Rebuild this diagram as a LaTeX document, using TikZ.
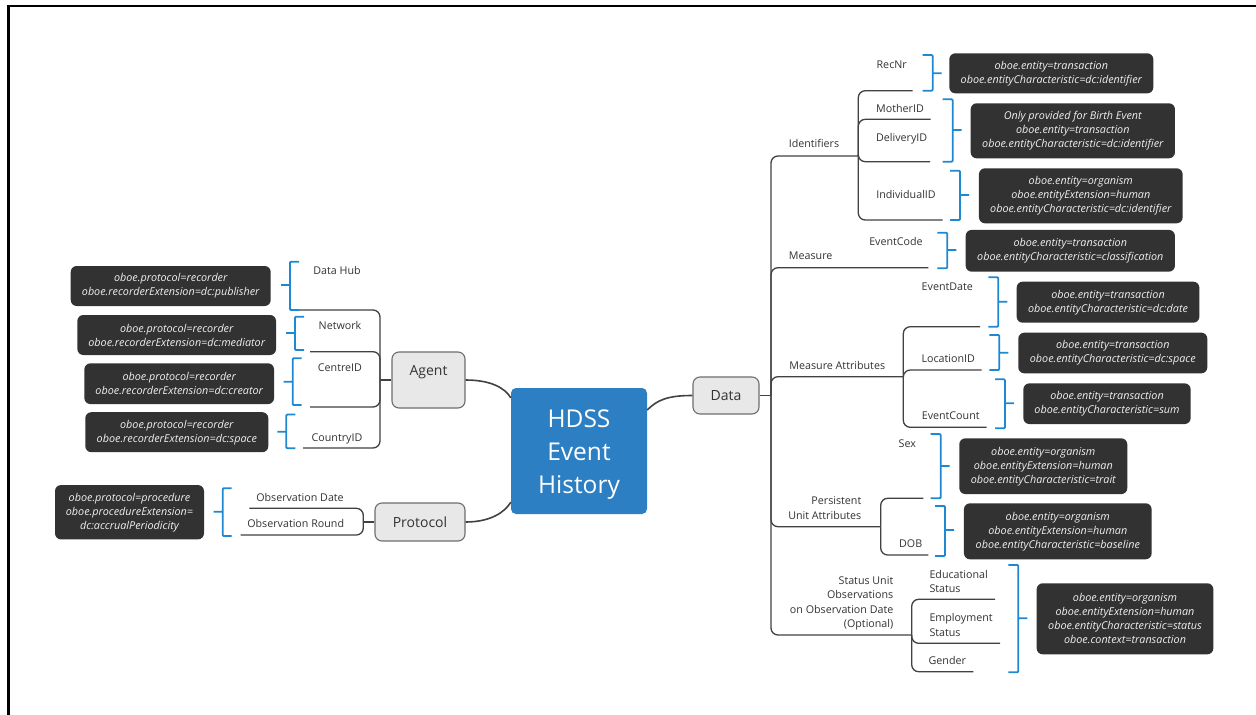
\documentclass[tikz,border=0pt]{standalone}
\usepackage{fontspec}
\setmainfont{Open Sans}
\usetikzlibrary{calc}

\definecolor{hubblue}{RGB}{45,127,195}
\definecolor{brakblue}{RGB}{30,136,210}
\definecolor{linegray}{RGB}{65,65,65}
\definecolor{boxdark}{RGB}{50,50,50}
\definecolor{nodegray}{RGB}{232,232,232}
\definecolor{nodeedge}{RGB}{110,110,110}
\definecolor{txt}{RGB}{51,51,51}

% bracket opening to the right: spine x, top y, bottom y, tick y
\newcommand\openbrak[4]{%
  \draw[brak] ({#1+9},#2) -- (#1,#2) -- (#1,#3) -- ({#1+9},#3) (#1,#4) -- ({#1-9},#4);}
% bracket opening to the left: spine x, top y, bottom y, tick y
\newcommand\closebrak[4]{%
  \draw[brak] ({#1-10},#2) -- (#1,#2) -- (#1,#3) -- ({#1-10},#3) (#1,#4) -- ({#1+9},#4);}

\begin{document}
\begin{tikzpicture}[x=1pt,y=-1pt,
  dbox/.style={fill=boxdark, rounded corners=6pt, text=white!94!black,
    font=\fontsize{10.8}{14}\selectfont\itshape, align=center, inner sep=0pt},
  gnode/.style={fill=nodegray, draw=nodeedge, line width=1.1pt, rounded corners=7pt,
    text=txt, font=\fontsize{14}{17}\selectfont, inner sep=0pt},
  lbl/.style={text=txt, font=\fontsize{10.7}{14.5}\selectfont, inner sep=0pt,
    text height=7.6pt, text depth=0pt},
  mlbl/.style={text=txt, font=\fontsize{10.7}{14.5}\selectfont, inner sep=0pt},
  limb/.style={draw=linegray, line width=1.3pt, rounded corners=7pt},
  conn/.style={draw=linegray, line width=1.6pt},
  brak/.style={draw=brakblue, line width=1.8pt, rounded corners=1pt}]

\useasboundingbox (0,0) rectangle (1256,715);
\fill[white] (0,0) rectangle (1256,715);
\draw[line width=2.6pt] (8.3,715) -- (8.3,6) -- (1256,6);

% ---- central topic and main topics
\node[fill=hubblue, rounded corners=5pt, minimum width=136pt, minimum height=126pt,
  text=white, font=\fontsize{24.5}{33}\selectfont, align=center, inner sep=0pt]
  (hdss) at (579,451) {\rule{0pt}{24.5pt}HDSS\\Event\\History};
\node[gnode, minimum width=73pt, minimum height=56pt, text height=10pt, text depth=19.4pt]
  (agent) at (428.5,380) {Agent};
\node[gnode, minimum width=90pt, minimum height=38pt] (protocol) at (420,522) {Protocol};
\node[gnode, minimum width=66pt, minimum height=37pt] (data) at (726,395.5) {Data};

\draw[conn] (agent.east) .. controls +(25,0) and +(-6,-10) .. ($(hdss.north west)+(0,10)$);
\draw[conn] (protocol.east) .. controls +(25,0) and +(-6,10) .. ($(hdss.south west)+(0,-12)$);
\draw[conn] ($(hdss.east)+(0,-41)$) .. controls +(10,-10) and +(-25,0) .. (data.west);

% ---- Agent
\node[lbl] (datahub) at (337,271) {Data Hub};
\node[lbl] (network) at (340,326) {Network};
\node[lbl] (centre) at (340,368) {CentreID};
\node[lbl] (country) at (337,438) {CountryID};
\coordinate (agT) at (380,380);
\coordinate (datahubU) at (297,310);
\coordinate (networkU) at (310,351.7);
\coordinate (centreU) at (310,407);
\coordinate (countryU) at (303,448);
\draw[limb] (agent.west) -- (agT);
\foreach \c in {datahubU,networkU,centreU,countryU}
  \draw[limb] (\c) -- (\c -| agT) -- (agT);

\node[dbox, minimum width=200pt, minimum height=40pt] (datahubBox) at (170.7,286)
  {oboe.protocol=recorder\\oboe.recorderExtension=dc:publisher};
\node[dbox, minimum width=198.7pt, minimum height=40pt] (networkBox) at (176.7,335)
  {oboe.protocol=recorder\\oboe.recorderExtension=dc:mediator};
\node[dbox, minimum width=189.7pt, minimum height=40.7pt] (centreBox) at (179.2,383.7)
  {oboe.protocol=recorder\\oboe.recorderExtension=dc:creator};
\node[dbox, minimum width=183pt, minimum height=40pt] (countryBox) at (176.8,432.2)
  {oboe.protocol=recorder\\oboe.recorderExtension=dc:space};
\openbrak{290}{261.7}{310}{285}
\openbrak{295}{316.7}{350}{333}
\openbrak{292.7}{358.3}{405}{381.7}
\openbrak{286.3}{414.5}{448.3}{431.7}

% ---- Protocol
\node[lbl] (obsdate) at (300,497.3) {Observation Date};
\node[lbl] (obsround) at (295.7,524) {Observation Round};
\coordinate (prT) at (363.3,522);
\coordinate (obsdateU) at (249.3,508.3);
\coordinate (obsroundU) at (240.7,535);
\draw[limb] (protocol.west) -- (prT);
\foreach \c in {obsdateU,obsroundU}
  \draw[limb] (\c) -- (\c -| prT) -- (prT);
\node[dbox, minimum width=149pt, minimum height=54.3pt] (protocolBox) at (129.5,512.2)
  {oboe.protocol=procedure\\oboe.procedureExtension=\\dc:accrualPeriodicity};
\openbrak{222.7}{488.3}{536}{511.7}

% ---- Data
\coordinate (daT) at (771,395.5);
\draw[limb] (data.east) -- (daT);
\node[lbl] (ident) at (814,144) {Identifiers};
\node[lbl] (measure) at (810.7,256) {Measure};
\node[lbl] (mattr) at (837.3,365.7) {Measure Attributes};
\node[mlbl, anchor=east, align=right] (persist) at (861.5,508) {Persistent\\Unit Attributes};
\node[mlbl, anchor=east, align=right] (status) at (893.5,603.5)
  {Status Unit\\Observations\\on Observation Date\\(Optional)};
\coordinate (identU) at (858.3,156);
\coordinate (measureU) at (928.3,267.7);
\coordinate (mattrU) at (903.3,376.7);
\coordinate (persistU) at (880.7,526.7);
\coordinate (statusU) at (911.7,635);
\foreach \c in {identU,measureU,mattrU,persistU,statusU}
  \draw[limb] (\c) -- (\c -| daT) -- (daT);

% Identifiers
\node[lbl] (recnr) at (891.7,65) {RecNr};
\node[lbl] (mother) at (900,108.3) {MotherID};
\node[lbl] (delivery) at (901.7,137.3) {DeliveryID};
\node[lbl] (indiv) at (906,195) {IndividualID};
\coordinate (recnrU) at (912.7,90.7);
\coordinate (motherU) at (930.7,119.3);
\coordinate (deliveryU) at (930,161.7);
\coordinate (indivU) at (942.7,220);
\foreach \c in {recnrU,motherU,deliveryU,indivU}
  \draw[limb] (\c) -- (\c -| identU) -- (identU);
\node[dbox, minimum width=204pt, minimum height=40pt] (recnrBox) at (1051.3,73.3)
  {oboe.entity=transaction\\oboe.entityCharacteristic=dc:identifier};
\node[dbox, minimum width=204.3pt, minimum height=55pt] (deliveryBox) at (1072.8,130.8)
  {Only provided for Birth Event\\oboe.entity=transaction\\oboe.entityCharacteristic=dc:identifier};
\node[dbox, minimum width=203.7pt, minimum height=55pt] (indivBox) at (1080.8,195.8)
  {oboe.entity=organism\\oboe.entityExtension=human\\oboe.entityCharacteristic=dc:identifier};
\closebrak{932.7}{55}{90.7}{73.3}
\closebrak{952.7}{99.3}{161.7}{130}
\closebrak{960}{170.7}{220}{195}

% Measure
\node[lbl] (evcode) at (896,241.7) {EventCode};
\node[dbox, minimum width=209.3pt, minimum height=41.7pt] (evcodeBox) at (1070.3,250.8)
  {oboe.entity=transaction\\oboe.entityCharacteristic=classification};
\closebrak{947.3}{232.7}{268.3}{250}

% Measure Attributes
\node[lbl] (evdate) at (947.3,286.7) {EventDate};
\node[lbl] (locid) at (948.3,358.3) {LocationID};
\node[lbl] (evcount) at (950.7,416) {EventCount};
\coordinate (evdateU) at (980,326.7);
\coordinate (locidU) at (981.7,370);
\coordinate (evcountU) at (986.7,427.3);
\foreach \c in {evdateU,locidU,evcountU}
  \draw[limb] (\c) -- (\c -| mattrU) -- (mattrU);
\node[dbox, minimum width=182.7pt, minimum height=41pt] (evdateBox) at (1108,302.2)
  {oboe.entity=transaction\\oboe.entityCharacteristic=dc:date};
\node[dbox, minimum width=189pt, minimum height=40.7pt] (locidBox) at (1112.8,353)
  {oboe.entity=transaction\\oboe.entityCharacteristic=dc:space};
\node[dbox, minimum width=167.3pt, minimum height=40.7pt] (evcountBox) at (1107,403.7)
  {oboe.entity=transaction\\oboe.entityCharacteristic=sum};
\closebrak{998.3}{277.3}{326.7}{301.7}
\closebrak{999.3}{335}{370}{352.7}
\closebrak{1005}{379.3}{428.3}{403.3}

% Persistent Unit Attributes
\node[lbl] (sex) at (907.3,444) {Sex};
\node[lbl] (dob) at (910.7,544) {DOB};
\coordinate (sexU) at (923.3,498.3);
\coordinate (dobU) at (928.3,555);
\foreach \c in {sexU,dobU}
  \draw[limb] (\c) -- (\c -| persistU) -- (persistU);
\node[dbox, minimum width=168pt, minimum height=55.7pt] (sexBox) at (1043.3,466.2)
  {oboe.entity=organism\\oboe.entityExtension=human\\oboe.entityCharacteristic=trait};
\node[dbox, minimum width=187.7pt, minimum height=56pt] (dobBox) at (1057.8,531.3)
  {oboe.entity=organism\\oboe.entityExtension=human\\oboe.entityCharacteristic=baseline};
\closebrak{940.7}{434}{498.3}{466}
\closebrak{945}{506}{556}{530}

% Status Unit Observations
\node[mlbl, anchor=west, align=left] (educ) at (929.3,581.3) {Educational\\Status};
\node[mlbl, anchor=west, align=left] (employ) at (929.3,625) {Employment\\Status};
\node[lbl] (gender) at (947.3,661) {Gender};
\coordinate (educU) at (995,599.3);
\coordinate (employU) at (1000,643.3);
\coordinate (genderU) at (973.3,671.7);
\foreach \c in {educU,employU,genderU}
  \draw[limb] (\c) -- (\c -| statusU) -- (statusU);
\node[dbox, minimum width=176.7pt, minimum height=71pt] (statusBox) at (1125,618.8)
  {oboe.entity=organism\\oboe.entityExtension=human\\oboe.entityCharacteristic=status\\oboe.context=transaction};
\closebrak{1018.3}{565}{672.3}{618.3}

\end{tikzpicture}
\end{document}
